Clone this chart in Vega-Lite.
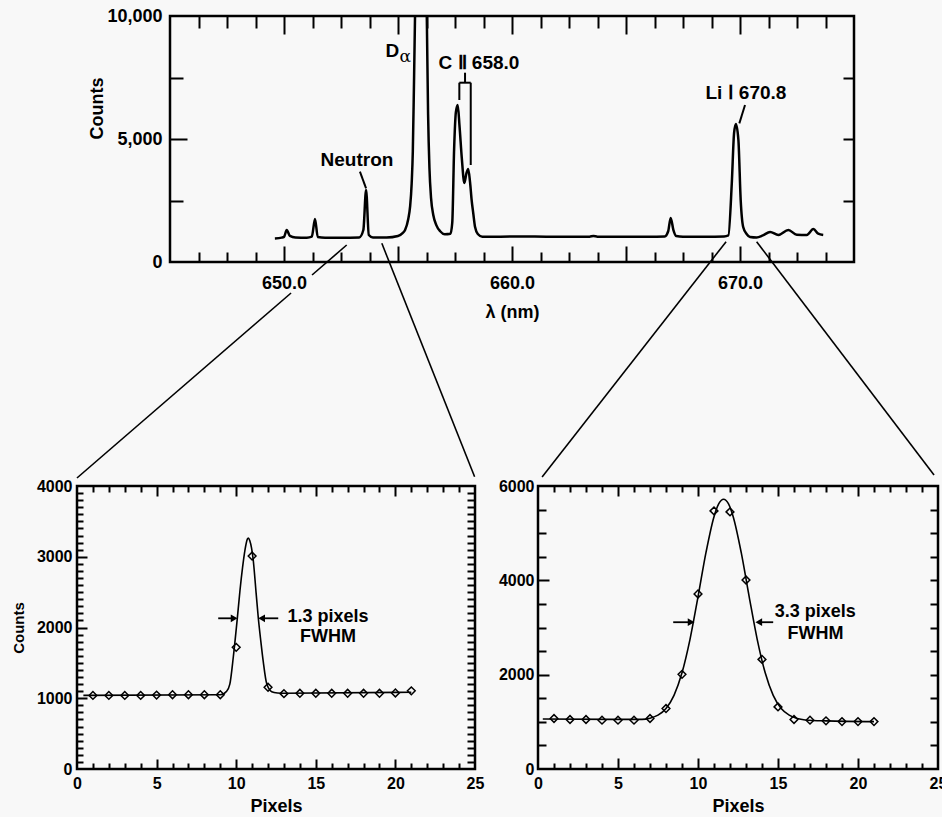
{
  "$schema": "https://vega.github.io/schema/vega-lite/v6.json",
  "background": "#f8f8f8",
  "padding": {"left": 10, "top": 5, "right": 0, "bottom": 0},
  "bounds": "flush",
  "spacing": 470,
  "config": {
    "view": {"stroke": "black", "strokeWidth": 2.5},
    "font": "Liberation Sans, Arial, sans-serif",
    "axis": {"grid": false, "domain": false, "tickColor": "black", "tickWidth": 2, "labelColor": "black", "labelFontWeight": "bold", "titleColor": "black", "titleFontWeight": "bold", "labelFlush": false, "labelOverlap": false, "labelBound": false},
    "text": {"color": "black", "fontWeight": "bold"},
    "line": {"color": "black"},
    "rule": {"color": "black"}
  },
  "vconcat": [
    {
      "bounds": "flush",
      "spacing": 0,
      "hconcat": [
        {"width": 93, "height": 246, "view": {"stroke": null}, "data": {"values": []}, "mark": "point"},
        {
          "width": 684,
          "height": 246,
          "resolve": {"axis": {"x": "independent", "y": "independent"}},
          "layer": [
            {
              "data": {"values": [
                {"wl": 649.6, "counts": 960}, {"wl": 649.9, "counts": 990}, {"wl": 650.0, "counts": 1020}, {"wl": 650.12, "counts": 1300}, {"wl": 650.26, "counts": 1060}, {"wl": 650.5, "counts": 1000},
                {"wl": 651.0, "counts": 990}, {"wl": 651.22, "counts": 1030}, {"wl": 651.36, "counts": 1750}, {"wl": 651.48, "counts": 1020}, {"wl": 651.8, "counts": 990}, {"wl": 652.5, "counts": 990},
                {"wl": 653.3, "counts": 1000}, {"wl": 653.48, "counts": 1300}, {"wl": 653.6, "counts": 2930}, {"wl": 653.72, "counts": 1100}, {"wl": 653.9, "counts": 1000}, {"wl": 654.5, "counts": 1000},
                {"wl": 655.0, "counts": 1060}, {"wl": 655.2, "counts": 1170}, {"wl": 655.31, "counts": 1300}, {"wl": 655.45, "counts": 1750}, {"wl": 655.53, "counts": 2250}, {"wl": 655.6, "counts": 3200},
                {"wl": 655.65, "counts": 4500}, {"wl": 655.7, "counts": 7200}, {"wl": 655.75, "counts": 10200}, {"wl": 655.8, "counts": 14000}, {"wl": 656.0, "counts": 20000}, {"wl": 656.2, "counts": 14000},
                {"wl": 656.24, "counts": 11500}, {"wl": 656.27, "counts": 9500}, {"wl": 656.32, "counts": 6000}, {"wl": 656.38, "counts": 3800}, {"wl": 656.45, "counts": 2600}, {"wl": 656.55, "counts": 1900},
                {"wl": 656.68, "counts": 1500}, {"wl": 656.85, "counts": 1250}, {"wl": 657.05, "counts": 1130}, {"wl": 657.3, "counts": 1150}, {"wl": 657.38, "counts": 1600}, {"wl": 657.46, "counts": 4550},
                {"wl": 657.54, "counts": 6100}, {"wl": 657.62, "counts": 6380}, {"wl": 657.7, "counts": 5500}, {"wl": 657.8, "counts": 4200}, {"wl": 657.91, "counts": 3210}, {"wl": 658.0, "counts": 3600},
                {"wl": 658.08, "counts": 3780}, {"wl": 658.16, "counts": 3250}, {"wl": 658.23, "counts": 2520}, {"wl": 658.3, "counts": 1990}, {"wl": 658.38, "counts": 1420}, {"wl": 658.5, "counts": 1140},
                {"wl": 658.7, "counts": 1030}, {"wl": 659.5, "counts": 1030}, {"wl": 660.5, "counts": 1040}, {"wl": 661.5, "counts": 1030}, {"wl": 662.5, "counts": 1030}, {"wl": 663.4, "counts": 1030},
                {"wl": 663.57, "counts": 1060}, {"wl": 663.75, "counts": 1030}, {"wl": 665.0, "counts": 1030}, {"wl": 666.0, "counts": 1030}, {"wl": 666.7, "counts": 1040}, {"wl": 666.85, "counts": 1250},
                {"wl": 666.96, "counts": 1790}, {"wl": 667.08, "counts": 1300}, {"wl": 667.2, "counts": 1060}, {"wl": 667.5, "counts": 1030}, {"wl": 668.5, "counts": 1030}, {"wl": 669.3, "counts": 1040},
                {"wl": 669.49, "counts": 1080}, {"wl": 669.64, "counts": 3200}, {"wl": 669.74, "counts": 5240}, {"wl": 669.82, "counts": 5610}, {"wl": 669.93, "counts": 4960}, {"wl": 670.03, "counts": 2520},
                {"wl": 670.14, "counts": 1420}, {"wl": 670.29, "counts": 1140}, {"wl": 670.44, "counts": 1020}, {"wl": 670.73, "counts": 1000}, {"wl": 671.0, "counts": 1080}, {"wl": 671.32, "counts": 1220},
                {"wl": 671.68, "counts": 1100}, {"wl": 672.12, "counts": 1300}, {"wl": 672.49, "counts": 1110}, {"wl": 672.93, "counts": 1100}, {"wl": 673.22, "counts": 1340}, {"wl": 673.43, "counts": 1150},
                {"wl": 673.65, "counts": 1100}
              ]},
              "mark": {"type": "line", "clip": true, "strokeWidth": 2.5, "interpolate": "monotone"},
              "encoding": {
                "x": {"field": "wl", "type": "quantitative", "scale": {"domain": [645, 675], "nice": false},
                  "axis": {"orient": "bottom", "values": [650, 660, 670], "format": ".1f", "ticks": false, "labelPadding": 12, "labelFontSize": 18, "title": "λ (nm)", "titleFontSize": 18, "titlePadding": 11}},
                "y": {"field": "counts", "type": "quantitative", "scale": {"domain": [0, 10000], "nice": false},
                  "axis": {"orient": "left", "values": [0, 5000, 10000], "format": ",.0f", "ticks": false, "labelPadding": 8, "labelFontSize": 18, "title": "Counts", "titleFontSize": 18, "titlePadding": 0, "titleY": 92}}
              }
            },
            {
              "data": {"values": [
                {"x1": 653.33, "y1": 3671, "x2": 653.6, "y2": 2995},
                {"x1": 670.22, "y1": 6382, "x2": 669.97, "y2": 5637},
                {"x1": 657.69, "y1": 7289, "x2": 658.19, "y2": 7289},
                {"x1": 657.94, "y1": 7289, "x2": 657.94, "y2": 7695},
                {"x1": 657.69, "y1": 7289, "x2": 657.69, "y2": 6585},
                {"x1": 658.19, "y1": 7289, "x2": 658.19, "y2": 3943}
              ]},
              "mark": {"type": "rule", "strokeWidth": 2},
              "encoding": {
                "x": {"field": "x1", "type": "quantitative", "scale": {"domain": [645, 675], "nice": false},
                  "axis": {"orient": "bottom", "values": [646.25, 647.5, 648.75, 651.25, 652.5, 653.75, 656.25, 657.5, 658.75, 661.25, 662.5, 663.75, 666.25, 667.5, 668.75, 671.25, 672.5, 673.75], "labels": false, "title": null, "tickSize": -10}},
                "x2": {"field": "x2"},
                "y": {"field": "y1", "type": "quantitative", "scale": {"domain": [0, 10000], "nice": false},
                  "axis": {"orient": "left", "values": [2500, 7500], "labels": false, "title": null, "tickSize": -13}},
                "y2": {"field": "y2"}
              }
            },
            {
              "data": {"values": [
                {"x1": 652.75, "y1": 691, "x2": 651.23, "y2": -528},
                {"x1": 650.31, "y1": -1260, "x2": 640.92, "y2": -8780},
                {"x1": 654.29, "y1": 760, "x2": 658.36, "y2": -8728},
                {"x1": 669.39, "y1": 825, "x2": 661.32, "y2": -8740},
                {"x1": 670.73, "y1": 825, "x2": 678.51, "y2": -8660}
              ]},
              "mark": {"type": "rule", "strokeWidth": 1.6},
              "encoding": {
                "x": {"field": "x1", "type": "quantitative", "scale": {"domain": [645, 675], "nice": false},
                  "axis": {"orient": "top", "values": [646.25, 647.5, 648.75, 651.25, 652.5, 653.75, 656.25, 657.5, 658.75, 661.25, 662.5, 663.75, 666.25, 667.5, 668.75, 671.25, 672.5, 673.75], "labels": false, "title": null, "tickSize": -12}},
                "x2": {"field": "x2"},
                "y": {"field": "y1", "type": "quantitative", "scale": {"domain": [0, 10000], "nice": false},
                  "axis": {"orient": "right", "values": [2500, 5000, 7500], "labels": false, "title": null, "tickSize": -11}},
                "y2": {"field": "y2"}
              }
            },
            {
              "data": {"values": [
                {"wl": 653.2, "counts": 4146, "label": "Neutron"},
                {"wl": 654.75, "counts": 8557, "label": "D"},
                {"wl": 658.55, "counts": 8077, "label": "C Ⅱ 658.0"},
                {"wl": 670.26, "counts": 6890, "label": "Li Ⅰ 670.8"}
              ]},
              "mark": {"type": "text", "fontSize": 19, "align": "center", "baseline": "middle"},
              "encoding": {
                "x": {"field": "wl", "type": "quantitative", "scale": {"domain": [645, 675], "nice": false},
                  "axis": {"orient": "bottom", "values": [650, 655, 660, 665, 670], "labels": false, "title": null, "tickSize": -16}},
                "y": {"field": "counts", "type": "quantitative", "scale": {"domain": [0, 10000], "nice": false},
                  "axis": {"orient": "left", "values": [5000], "labels": false, "title": null, "tickSize": -17}},
                "text": {"field": "label"}
              }
            },
            {
              "data": {"values": [{"wl": 655.32, "counts": 8333, "label": "α"}]},
              "mark": {"type": "text", "fontSize": 17, "fontWeight": "normal", "align": "center", "baseline": "middle", "font": "DejaVu Serif"},
              "encoding": {
                "x": {"field": "wl", "type": "quantitative", "scale": {"domain": [645, 675], "nice": false},
                  "axis": {"orient": "top", "values": [650, 655, 660, 665, 670], "labels": false, "title": null, "tickSize": -18}},
                "y": {"field": "counts", "type": "quantitative", "scale": {"domain": [0, 10000], "nice": false}, "axis": null},
                "text": {"field": "label"}
              }
            }
          ]
        }
      ]
    },
    {
      "bounds": "flush",
      "spacing": 63,
      "hconcat": [
        {
          "width": 398,
          "height": 283,
          "resolve": {"axis": {"x": "independent", "y": "independent"}},
          "layer": [
            {
              "data": {"values": [
                {"px": 0.4, "counts": 1040}, {"px": 9.0, "counts": 1050}, {"px": 9.4, "counts": 1100}, {"px": 9.6, "counts": 1200}, {"px": 9.82, "counts": 1587}, {"px": 10.07, "counts": 2130},
                {"px": 10.24, "counts": 2530}, {"px": 10.4, "counts": 2850}, {"px": 10.55, "counts": 3095}, {"px": 10.7, "counts": 3250}, {"px": 10.76, "counts": 3265}, {"px": 10.85, "counts": 3230},
                {"px": 11.07, "counts": 2954}, {"px": 11.25, "counts": 2490}, {"px": 11.39, "counts": 2130}, {"px": 11.55, "counts": 1800}, {"px": 11.7, "counts": 1517}, {"px": 11.91, "counts": 1211},
                {"px": 12.23, "counts": 1093}, {"px": 12.6, "counts": 1075}, {"px": 13.0, "counts": 1070}, {"px": 21.0, "counts": 1085}
              ]},
              "mark": {"type": "line", "strokeWidth": 1.6, "interpolate": "monotone"},
              "encoding": {
                "x": {"field": "px", "type": "quantitative", "scale": {"domain": [0, 25], "nice": false},
                  "axis": {"orient": "bottom", "values": [0, 5, 10, 15, 20, 25], "format": "d", "ticks": false, "labelPadding": 6, "labelFontSize": 16, "title": "Pixels", "titleFontSize": 18, "titlePadding": 6}},
                "y": {"field": "counts", "type": "quantitative", "scale": {"domain": [0, 4000], "nice": false},
                  "axis": {"orient": "left", "values": [0, 1000, 2000, 3000, 4000], "format": "d", "ticks": false, "labelPadding": 5, "labelFontSize": 16, "title": "Counts", "titleFontSize": 15, "titlePadding": 10}}
              }
            },
            {
              "data": {"values": [
                {"px": 1, "counts": 1040}, {"px": 2, "counts": 1040}, {"px": 3, "counts": 1040}, {"px": 4, "counts": 1040}, {"px": 5, "counts": 1045}, {"px": 6, "counts": 1050}, {"px": 7, "counts": 1050},
                {"px": 8, "counts": 1050}, {"px": 9, "counts": 1050}, {"px": 10, "counts": 1720}, {"px": 11, "counts": 3010}, {"px": 12, "counts": 1155}, {"px": 13, "counts": 1065}, {"px": 14, "counts": 1070},
                {"px": 15, "counts": 1070}, {"px": 16, "counts": 1070}, {"px": 17, "counts": 1070}, {"px": 18, "counts": 1070}, {"px": 19, "counts": 1070}, {"px": 20, "counts": 1075}, {"px": 21, "counts": 1105}
              ]},
              "mark": {"type": "point", "shape": "diamond", "filled": false, "size": 60, "strokeWidth": 1.5, "color": "black", "opacity": 1},
              "encoding": {
                "x": {"field": "px", "type": "quantitative", "scale": {"domain": [0, 25], "nice": false},
                  "axis": {"orient": "bottom", "values": [1, 2, 3, 4, 5, 6, 7, 8, 9, 10, 11, 12, 13, 14, 15, 16, 17, 18, 19, 20, 21, 22, 23, 24], "labels": false, "title": null, "tickSize": {"condition": {"test": "datum.value % 5 === 0", "value": -10}, "value": -6}}},
                "y": {"field": "counts", "type": "quantitative", "scale": {"domain": [0, 4000], "nice": false},
                  "axis": {"orient": "left", "values": [100, 200, 300, 400, 500, 600, 700, 800, 900, 1000, 1100, 1200, 1300, 1400, 1500, 1600, 1700, 1800, 1900, 2000, 2100, 2200, 2300, 2400, 2500, 2600, 2700, 2800, 2900, 3000, 3100, 3200, 3300, 3400, 3500, 3600, 3700, 3800, 3900], "labels": false, "title": null, "tickSize": {"condition": {"test": "datum.value % 1000 === 0", "value": -10}, "value": -6}}}
              }
            },
            {
              "data": {"values": [
                {"x1": 8.87, "x2": 9.9, "y": 2130},
                {"x1": 11.6, "x2": 12.64, "y": 2130}
              ]},
              "mark": {"type": "rule", "strokeWidth": 1.8},
              "encoding": {
                "x": {"field": "x1", "type": "quantitative", "scale": {"domain": [0, 25], "nice": false},
                  "axis": {"orient": "top", "values": [1, 2, 3, 4, 5, 6, 7, 8, 9, 10, 11, 12, 13, 14, 15, 16, 17, 18, 19, 20, 21, 22, 23, 24], "labels": false, "title": null, "tickSize": {"condition": {"test": "datum.value % 5 === 0", "value": -10}, "value": -6}}},
                "x2": {"field": "x2"},
                "y": {"field": "y", "type": "quantitative", "scale": {"domain": [0, 4000], "nice": false},
                  "axis": {"orient": "right", "values": [100, 200, 300, 400, 500, 600, 700, 800, 900, 1000, 1100, 1200, 1300, 1400, 1500, 1600, 1700, 1800, 1900, 2000, 2100, 2200, 2300, 2400, 2500, 2600, 2700, 2800, 2900, 3000, 3100, 3200, 3300, 3400, 3500, 3600, 3700, 3800, 3900], "labels": false, "title": null, "tickSize": -8}}
              }
            },
            {
              "data": {"values": [{"px": 9.87, "counts": 2130}]},
              "mark": {"type": "point", "shape": "triangle-right", "filled": true, "size": 60, "color": "black", "opacity": 1},
              "encoding": {
                "x": {"field": "px", "type": "quantitative", "scale": {"domain": [0, 25], "nice": false}, "axis": null},
                "y": {"field": "counts", "type": "quantitative", "scale": {"domain": [0, 4000], "nice": false}, "axis": null}
              }
            },
            {
              "data": {"values": [{"px": 11.6, "counts": 2130}]},
              "mark": {"type": "point", "shape": "triangle-left", "filled": true, "size": 60, "color": "black", "opacity": 1},
              "encoding": {
                "x": {"field": "px", "type": "quantitative", "scale": {"domain": [0, 25], "nice": false}, "axis": null},
                "y": {"field": "counts", "type": "quantitative", "scale": {"domain": [0, 4000], "nice": false}, "axis": null}
              }
            },
            {
              "data": {"values": [
                {"px": 15.77, "counts": 2148, "label": "1.3 pixels"},
                {"px": 15.77, "counts": 1859, "label": "FWHM"}
              ]},
              "mark": {"type": "text", "fontSize": 18, "align": "center", "baseline": "middle"},
              "encoding": {
                "x": {"field": "px", "type": "quantitative", "scale": {"domain": [0, 25], "nice": false}, "axis": null},
                "y": {"field": "counts", "type": "quantitative", "scale": {"domain": [0, 4000], "nice": false}, "axis": null},
                "text": {"field": "label"}
              }
            }
          ]
        },
        {
          "width": 400,
          "height": 283,
          "resolve": {"axis": {"x": "independent", "y": "independent"}},
          "layer": [
            {
              "data": {"values": [
                {"px": 0.3, "counts": 1060}, {"px": 6.5, "counts": 1052}, {"px": 7.0, "counts": 1077}, {"px": 7.5, "counts": 1141}, {"px": 8.0, "counts": 1283}, {"px": 8.5, "counts": 1562},
                {"px": 9.0, "counts": 2040}, {"px": 9.5, "counts": 2750}, {"px": 10.0, "counts": 3649}, {"px": 10.5, "counts": 4591}, {"px": 11.0, "counts": 5350}, {"px": 11.3, "counts": 5625},
                {"px": 11.6, "counts": 5720}, {"px": 11.9, "counts": 5625}, {"px": 12.2, "counts": 5350}, {"px": 12.7, "counts": 4591}, {"px": 13.2, "counts": 3649}, {"px": 13.7, "counts": 2750},
                {"px": 14.2, "counts": 2040}, {"px": 14.7, "counts": 1562}, {"px": 15.2, "counts": 1283}, {"px": 15.7, "counts": 1141}, {"px": 16.2, "counts": 1070}, {"px": 16.7, "counts": 1040},
                {"px": 18.0, "counts": 1020}, {"px": 21.0, "counts": 1005}
              ]},
              "mark": {"type": "line", "strokeWidth": 1.6, "interpolate": "monotone"},
              "encoding": {
                "x": {"field": "px", "type": "quantitative", "scale": {"domain": [0, 25], "nice": false},
                  "axis": {"orient": "bottom", "values": [0, 5, 10, 15, 20, 25], "format": "d", "ticks": false, "labelPadding": 6, "labelFontSize": 16, "title": "Pixels", "titleFontSize": 18, "titlePadding": 6}},
                "y": {"field": "counts", "type": "quantitative", "scale": {"domain": [0, 6000], "nice": false},
                  "axis": {"orient": "left", "values": [0, 2000, 4000, 6000], "format": "d", "ticks": false, "labelPadding": 4, "labelFontSize": 16, "title": null}}
              }
            },
            {
              "data": {"values": [
                {"px": 1, "counts": 1071}, {"px": 2, "counts": 1050}, {"px": 3, "counts": 1050}, {"px": 4, "counts": 1035}, {"px": 5, "counts": 1035}, {"px": 6, "counts": 1035}, {"px": 7, "counts": 1071},
                {"px": 8, "counts": 1282}, {"px": 9, "counts": 2007}, {"px": 10, "counts": 3711}, {"px": 11, "counts": 5472}, {"px": 12, "counts": 5451}, {"px": 13, "counts": 4007}, {"px": 14, "counts": 2324},
                {"px": 15, "counts": 1317}, {"px": 16, "counts": 1050}, {"px": 17, "counts": 1035}, {"px": 18, "counts": 1021}, {"px": 19, "counts": 1005}, {"px": 20, "counts": 1005}, {"px": 21, "counts": 1005}
              ]},
              "mark": {"type": "point", "shape": "diamond", "filled": false, "size": 60, "strokeWidth": 1.5, "color": "black", "opacity": 1},
              "encoding": {
                "x": {"field": "px", "type": "quantitative", "scale": {"domain": [0, 25], "nice": false},
                  "axis": {"orient": "bottom", "values": [1, 2, 3, 4, 5, 6, 7, 8, 9, 10, 11, 12, 13, 14, 15, 16, 17, 18, 19, 20, 21, 22, 23, 24], "labels": false, "title": null, "tickSize": {"condition": {"test": "datum.value % 5 === 0", "value": -11}, "value": -6}}},
                "y": {"field": "counts", "type": "quantitative", "scale": {"domain": [0, 6000], "nice": false},
                  "axis": {"orient": "left", "values": [500, 1000, 1500, 2000, 2500, 3000, 3500, 4000, 4500, 5000, 5500], "labels": false, "title": null, "tickSize": {"condition": {"test": "datum.value % 2000 === 0", "value": -11}, "value": -8}}}
              }
            },
            {
              "data": {"values": [
                {"x1": 8.45, "x2": 9.6, "y": 3112},
                {"x1": 13.8, "x2": 14.7, "y": 3112}
              ]},
              "mark": {"type": "rule", "strokeWidth": 1.8},
              "encoding": {
                "x": {"field": "x1", "type": "quantitative", "scale": {"domain": [0, 25], "nice": false},
                  "axis": {"orient": "top", "values": [1, 2, 3, 4, 5, 6, 7, 8, 9, 10, 11, 12, 13, 14, 15, 16, 17, 18, 19, 20, 21, 22, 23, 24], "labels": false, "title": null, "tickSize": {"condition": {"test": "datum.value % 5 === 0", "value": -10}, "value": -6}}},
                "x2": {"field": "x2"},
                "y": {"field": "y", "type": "quantitative", "scale": {"domain": [0, 6000], "nice": false},
                  "axis": {"orient": "right", "values": [500, 1000, 1500, 2000, 2500, 3000, 3500, 4000, 4500, 5000, 5500], "labels": false, "title": null, "tickSize": -8}}
              }
            },
            {
              "data": {"values": [{"px": 9.57, "counts": 3112}]},
              "mark": {"type": "point", "shape": "triangle-right", "filled": true, "size": 60, "color": "black", "opacity": 1},
              "encoding": {
                "x": {"field": "px", "type": "quantitative", "scale": {"domain": [0, 25], "nice": false}, "axis": null},
                "y": {"field": "counts", "type": "quantitative", "scale": {"domain": [0, 6000], "nice": false}, "axis": null}
              }
            },
            {
              "data": {"values": [{"px": 13.8, "counts": 3112}]},
              "mark": {"type": "point", "shape": "triangle-left", "filled": true, "size": 60, "color": "black", "opacity": 1},
              "encoding": {
                "x": {"field": "px", "type": "quantitative", "scale": {"domain": [0, 25], "nice": false}, "axis": null},
                "y": {"field": "counts", "type": "quantitative", "scale": {"domain": [0, 6000], "nice": false}, "axis": null}
              }
            },
            {
              "data": {"values": [
                {"px": 17.33, "counts": 3323, "label": "3.3 pixels"},
                {"px": 17.34, "counts": 2852, "label": "FWHM"}
              ]},
              "mark": {"type": "text", "fontSize": 18, "align": "center", "baseline": "middle"},
              "encoding": {
                "x": {"field": "px", "type": "quantitative", "scale": {"domain": [0, 25], "nice": false}, "axis": null},
                "y": {"field": "counts", "type": "quantitative", "scale": {"domain": [0, 6000], "nice": false}, "axis": null},
                "text": {"field": "label"}
              }
            }
          ]
        }
      ]
    }
  ]
}
